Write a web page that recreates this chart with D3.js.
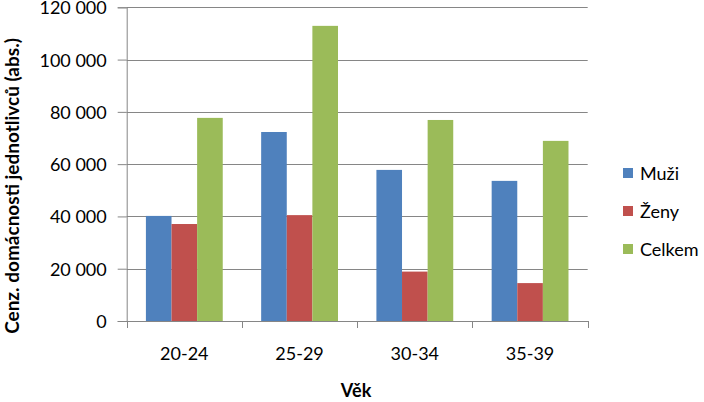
<!DOCTYPE html>
<html><head><meta charset="utf-8">
<script src="https://cdn.jsdelivr.net/npm/d3@7"></script>
<style>body{margin:0;background:#fff}svg{display:block}text{font-family:Lato,"Open Sans",sans-serif}</style>
</head><body>
<svg id="c" width="704" height="402"></svg>
<script>
const categories = ["20-24","25-29","30-34","35-39"];
const seriesNames = ["Muži","Ženy","Celkem"];
const muzi = [40200, 72300, 57800, 53600];
const zeny = [37100, 40500, 18900, 14500];
const celkem = [77700, 112900, 76900, 68900];
const yTicks = [0,20000,40000,60000,80000,100000,120000];
const colors = ["#4F81BD","#C0504D","#9BBB59"];
const seriesVals = [muzi, zeny, celkem];

const svg = d3.select("#c");
const L = 126.7, R = 587.7, T = 7.3, B = 321;
const x = d3.scaleBand().domain(categories).range([L,R]).paddingInner(0).paddingOuter(0);
const y = d3.scaleLinear().domain([0,120000]).range([B,T]);
const bw = x.bandwidth()/4.5;
const fmt = v => d3.format(",")(v).replace(/,/g," ");

// gridlines
svg.append("g").selectAll("line").data(yTicks.filter(d=>d>0)).join("line")
  .attr("x1",L).attr("x2",R).attr("y1",d=>Math.round(y(d))+0.5).attr("y2",d=>Math.round(y(d))+0.5)
  .attr("stroke","#868686").attr("stroke-width",1);

// bars
seriesVals.forEach((vals,si)=>{
  svg.append("g").selectAll("rect").data(categories).join("rect")
    .attr("x",(c)=>x(c)+0.75*bw+si*bw)
    .attr("width",bw)
    .attr("y",(c,i)=>y(vals[i]))
    .attr("height",(c,i)=>B-y(vals[i]))
    .attr("fill",colors[si]);
});

// y axis
const yAxis = d3.axisLeft(y).tickValues(yTicks).tickSize(9).tickPadding(11).tickFormat(fmt);
const gy = svg.append("g").attr("transform",`translate(${L},0)`).call(yAxis);
gy.select(".domain").attr("stroke","#868686");
gy.selectAll(".tick line").attr("stroke","#868686");
gy.selectAll(".tick text").attr("font-size",18).attr("fill","#000").attr("dy","0.36em");

// x axis
const xAxis = d3.axisBottom(x).tickSize(0).tickPadding(0);
const gx = svg.append("g").attr("transform",`translate(0,${B})`).call(xAxis);
gx.select(".domain").attr("stroke","#868686");
gx.selectAll(".tick text").attr("font-size",18).attr("fill","#000").attr("dy",null).attr("y",39);
const bounds = [L, ...categories.map(c=>x(c)+x.bandwidth())];
svg.append("g").selectAll("line").data(bounds).join("line")
  .attr("x1",d=>Math.round(d)+0.5).attr("x2",d=>Math.round(d)+0.5).attr("y1",B).attr("y2",B+7)
  .attr("stroke","#868686");

// axis titles
svg.append("text").attr("x",356).attr("y",397).attr("text-anchor","middle")
  .attr("font-size",18).attr("font-weight","bold").text("Věk");
svg.append("text").attr("transform",`translate(19,${186}) rotate(-90)`).attr("text-anchor","middle")
  .attr("font-size",19).attr("font-weight","bold").text("Cenz. domácnosti jednotlivců (abs.)");

// legend
const lg = svg.append("g").selectAll("g").data(seriesNames).join("g")
  .attr("transform",(d,i)=>`translate(623,${173+i*38})`);
lg.append("rect").attr("x",0).attr("y",-5).attr("width",10).attr("height",10).attr("fill",(d,i)=>colors[i]);
lg.append("text").attr("x",17).attr("y",6.5).attr("font-size",18).text(d=>d);
</script>
</body></html>
